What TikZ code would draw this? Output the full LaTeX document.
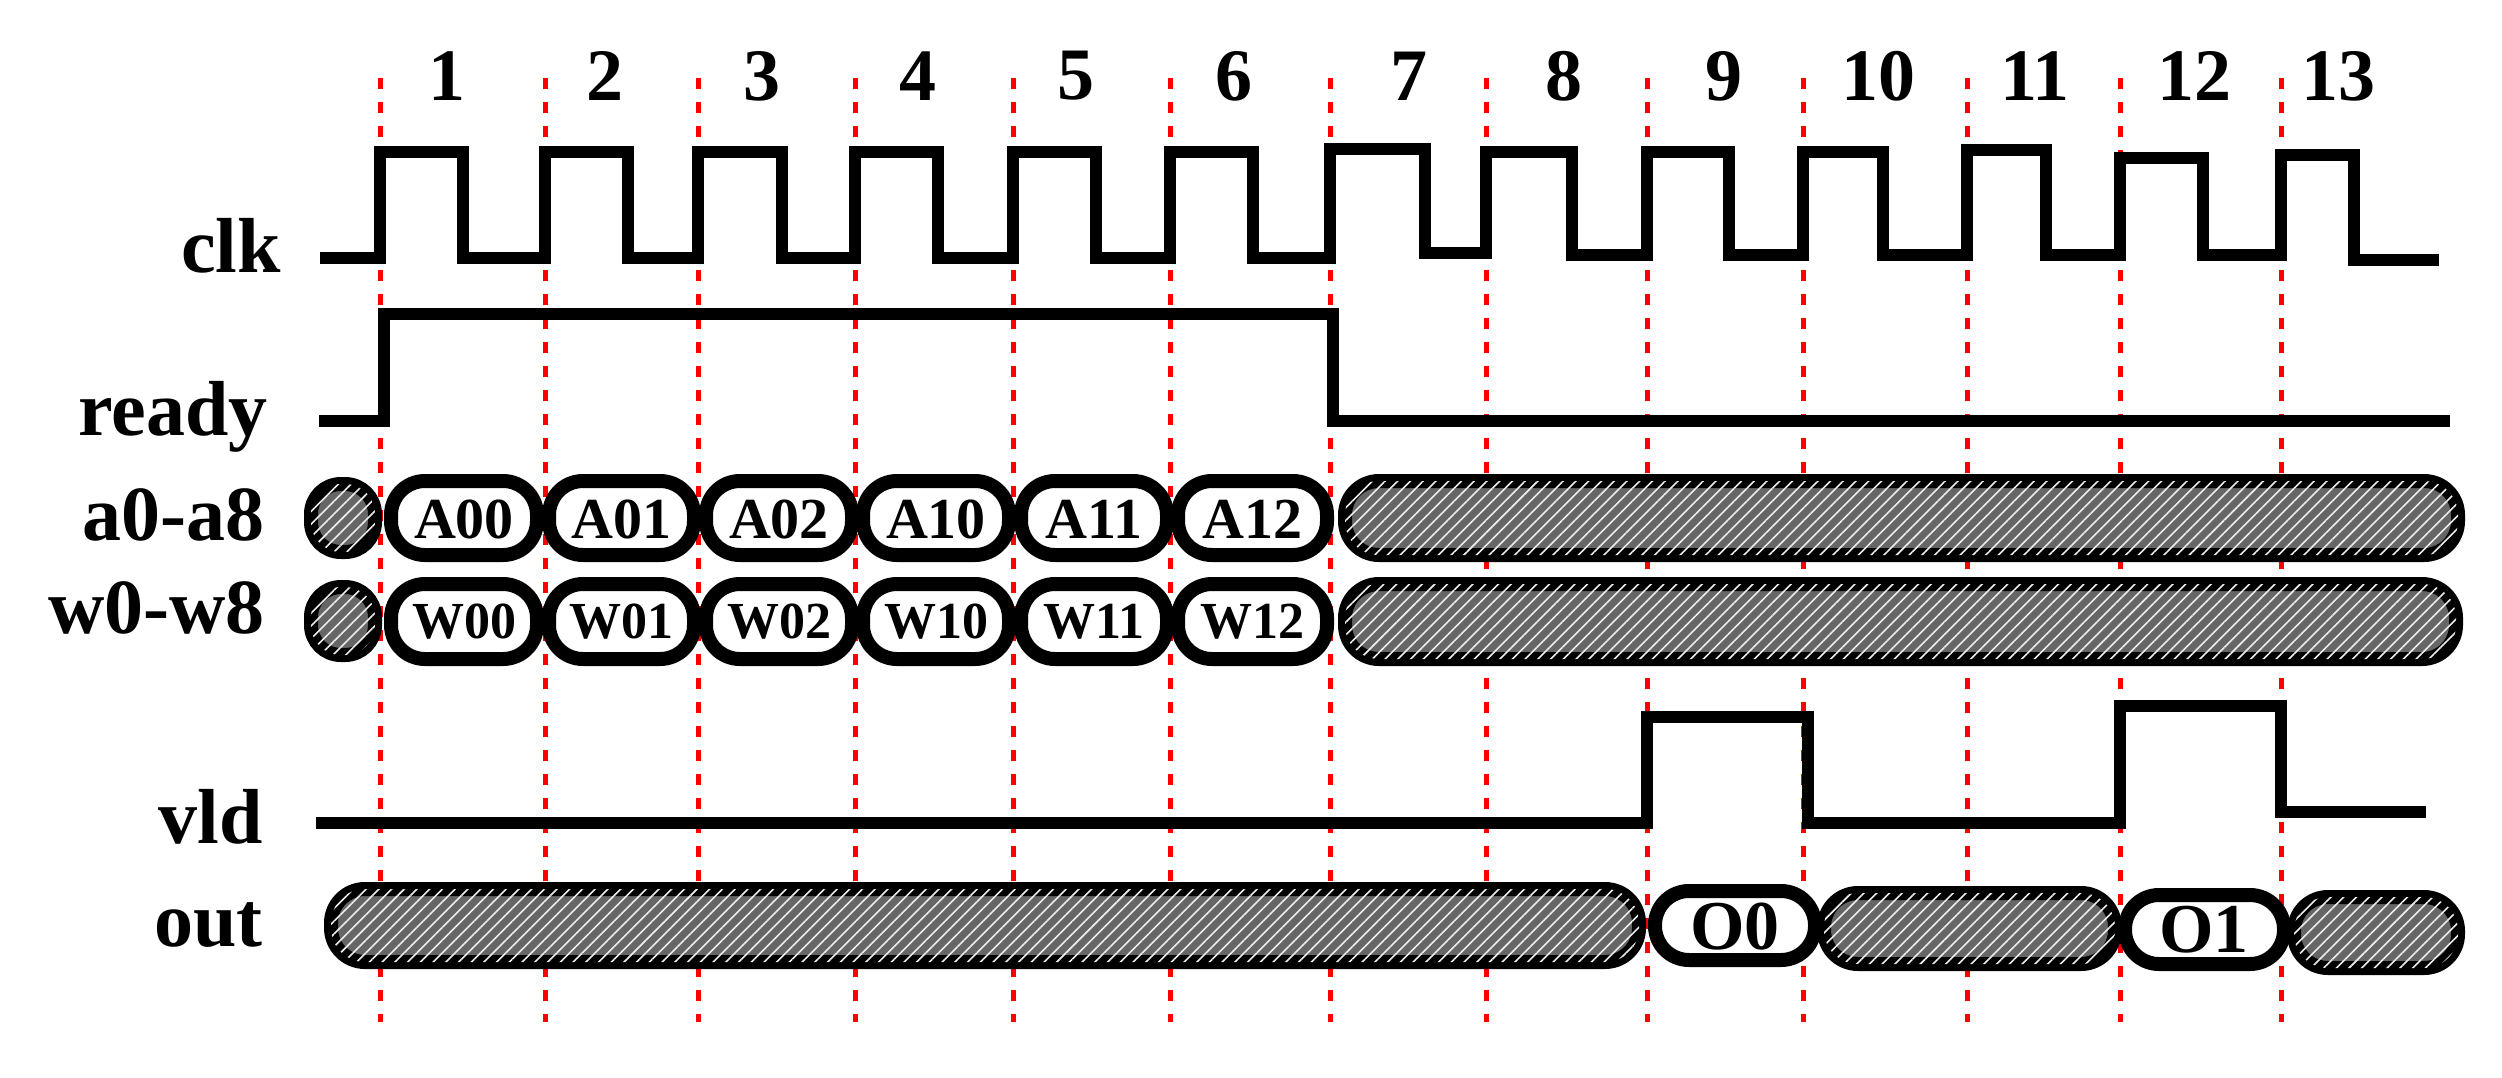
\documentclass[tikz,border=0pt]{standalone}
\usepackage{fontspec}
\setmainfont{Liberation Serif}
\usetikzlibrary{patterns.meta}
\begin{document}
\begin{tikzpicture}[x=1pt,y=-1pt,
  wave/.style={line width=12pt,line join=miter,line cap=butt},
  grid/.style={red,line width=5pt,dash pattern=on 11pt off 13pt},
  busbox/.style={line width=14pt,rounded corners=34pt,fill=white},
  hatch/.style={line width=14pt,rounded corners=34pt,fill=gray!80!black,
     postaction={pattern={Lines[angle=45,distance=9pt,line width=1.6pt]},pattern color=white!85!gray}},
  lbl/.style={font=\fontsize{78}{80}\selectfont\bfseries,anchor=base east,inner sep=0},
  num/.style={font=\fontsize{74}{76}\selectfont\bfseries,inner sep=0},
  tA/.style={font=\fontsize{58}{60}\selectfont\bfseries,inner sep=0},
  tW/.style={font=\fontsize{52}{54}\selectfont\bfseries,inner sep=0},
  tO/.style={font=\fontsize{70}{70}\selectfont\bfseries,inner sep=0}]
\useasboundingbox (0,0) rectangle (2502,1077);
% labels
\node[lbl] (lclk) at (281,272) {clk};
\node[lbl] (lready) at (268,435) {ready};
\node[lbl] (la) at (265,540) {a0-a8};
\node[lbl] (lw) at (265,633) {w0-w8};
\node[lbl] (lvld) at (263,843) {vld};
\node[lbl] (lout) at (263,946) {out};
% grid and numbers
\foreach \x/\n in {380/1,545/2,698/3,855/4,1013/5,1170/6,1330/7,1486/8,1647/9,1803/10,1967/11,2120/12,2281/13}{
  \draw[grid] (\x,78) -- (\x,1022);
}
\foreach \x/\n in {447/1,605/2,762/3,918/4,1076/5,1234/6,1409/7,1564/8,1724/9,1878/10,2035/11,2194/12,2338/13}{
  \node[num] (n\n) at (\x,76) {\n};
}
% clk
\draw[wave] (320,258) -- (380,258) -- (380,152) -- (463,152) -- (463,258)
  -- (545,258) -- (545,152) -- (628,152) -- (628,258)
  -- (698,258) -- (698,152) -- (782,152) -- (782,258)
  -- (855,258) -- (855,152) -- (938,152) -- (938,258)
  -- (1013,258) -- (1013,152) -- (1096,152) -- (1096,258)
  -- (1170,258) -- (1170,152) -- (1253,152) -- (1253,258)
  -- (1330,258) -- (1330,149) -- (1425,149) -- (1425,253)
  -- (1486,253) -- (1486,152) -- (1572,152) -- (1572,255)
  -- (1647,255) -- (1647,152) -- (1729,152) -- (1729,255)
  -- (1803,255) -- (1803,152) -- (1883,152) -- (1883,255)
  -- (1967,255) -- (1967,150) -- (2046,150) -- (2046,255)
  -- (2120,255) -- (2120,158) -- (2203,158) -- (2203,255)
  -- (2281,255) -- (2281,155) -- (2354,155) -- (2354,260) -- (2439,260);
% ready
\draw[wave] (319,421) -- (384,421) -- (384,314) -- (1333,314) -- (1333,421) -- (2450,421);
% vld
\draw[wave] (316,823) -- (1647,823) -- (1647,717) -- (1808,717) -- (1808,823)
  -- (2120,823) -- (2120,706) -- (2281,706) -- (2281,812) -- (2426,812);
% a row
\draw[hatch,rounded corners=30pt] (311,484) rectangle (375,552);
\foreach \a/\b/\t in {391/537/A00,549/694/A01,706/852/A02,863/1009/A10,1021/1167/A11,1178/1327/A12}{
  \draw[busbox] (\a,481) rectangle (\b,555);
  \node[tA] (a\t) at ({(\a+\b)/2},519) {\t};
}
\draw[hatch] (1345,481) rectangle (2458,555);
% w row
\draw[hatch,rounded corners=30pt] (311,587) rectangle (375,655);
\foreach \a/\b/\t in {391/537/W00,549/694/W01,706/852/W02,863/1009/W10,1021/1167/W11,1178/1327/W12}{
  \draw[busbox] (\a,584) rectangle (\b,659);
  \node[tW] (w\t) at ({(\a+\b)/2},622) {\t};
}
\draw[hatch] (1345,584) rectangle (2456,659);
% out row
\draw[hatch] (331,889) rectangle (1639,962);
\draw[busbox] (1655,891) rectangle (1815,960);
\node[tO] (o0) at (1735,927) {O0};
\draw[hatch] (1824,893) rectangle (2115,964);
\draw[busbox] (2125,895) rectangle (2284,964);
\node[tO] (o1) at (2204,930) {O1};
\draw[hatch] (2294,897) rectangle (2458,968);
\end{tikzpicture}
\end{document}
